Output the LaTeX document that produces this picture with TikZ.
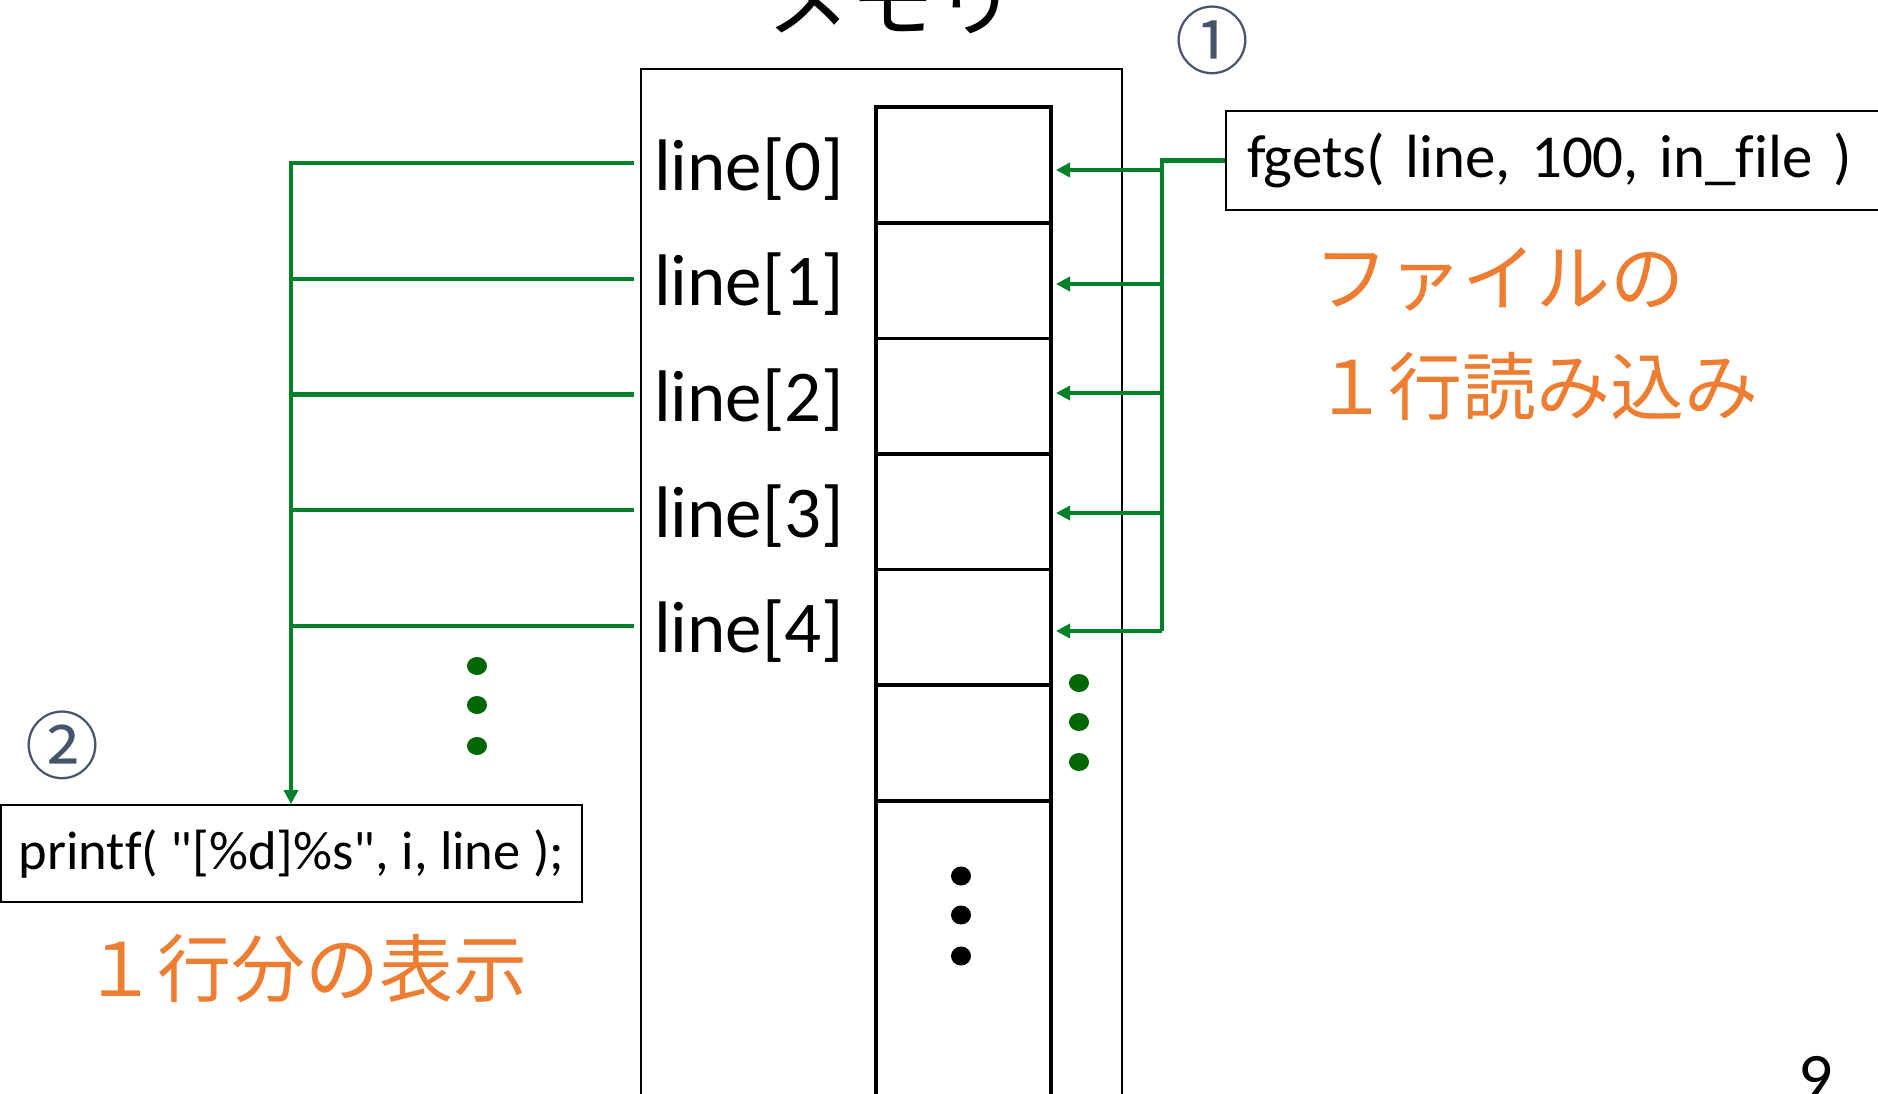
\documentclass[tikz,border=0pt]{standalone}
\usepackage{fontspec}
\setmainfont{Carlito}
\newfontfamily\codefont{Carlito}[Ligatures={TeXOff,CommonOff}]
\newfontfamily\jp{Noto Sans CJK JP}
\usetikzlibrary{arrows.meta,calc}
\definecolor{gline}{RGB}{0,128,40}
\definecolor{gdot}{RGB}{0,102,0}
\definecolor{orng}{RGB}{237,125,49}
\definecolor{circ}{RGB}{68,84,106}
\begin{document}
\begin{tikzpicture}[x=1pt,y=-1pt,
  cellbox/.style={draw=black,line width=3.6pt,minimum width=175pt,minimum height=115.6pt,inner sep=0pt,anchor=north west},
  memframe/.style={draw=black,line width=2.2pt,minimum width=481pt,minimum height=1060pt,inner sep=0pt,anchor=north west},
  codebox/.style={draw=black,line width=2pt,inner sep=0pt},
  lbl/.style={font=\fontsize{73}{80}\selectfont,inner sep=0pt,anchor=base west},
  gl/.style={draw=gline,line width=4.2pt},
  gar/.style={gl,-{Triangle[length=14pt,width=14pt]}},
  orangetxt/.style={text=orng,font=\jp\fontsize{74}{90}\selectfont,inner sep=0pt},
  circnum/.style={text=circ,font=\jp\fontsize{74}{80}\selectfont,inner sep=0pt},
  gdots/.style={fill=gdot},
  bdots/.style={fill=black}
]
\useasboundingbox (0,0) rectangle (1878,1093);
\clip (0,0) rectangle (1878,1093);

% title
\node[font=\jp\fontsize{84}{90}\selectfont,inner sep=0pt,anchor=base] (title) at (892,30) {メモリ};

% memory frame
\node[memframe] (mem) at (640,68) {};

% cells
\foreach \i in {0,...,5}{
  \node[cellbox] (c\i) at (874,{105.4+115.6*\i}) {};
}
\node[cellbox,minimum height=320pt] (c6) at (874,799) {};

% labels
\foreach \i in {0,...,4}{
  \node[lbl] (l\i) at (654,{163.2+115.6*\i+27}) {line[\i]};
}

% code boxes
\node[codebox,anchor=west,inner xsep=21pt,text width=700pt,align=left,minimum height=99pt,font=\codefont\fontsize{61}{70}\selectfont] (fgets) at (1225,160.5) {fgets( line, 100, in\_file )};
\node[codebox,minimum width=581pt,minimum height=97pt,font=\codefont\fontsize{54.5}{60}\selectfont] (printf) at (291.5,853.5) {printf( "[\%d]\%s", i, line );};

% orange captions
\node[orangetxt,anchor=base west] (cap1a) at (1314,305) {ファイルの};
\node[orangetxt,anchor=base west] (cap1b) at (1314,414) {１行読み込み};
\node[orangetxt,anchor=base] (cap2) at (305,996) {１行分の表示};

% circled numbers
\node[circnum] (n1) at (1212,40) {①};
\node[circnum] (n2) at (62,745) {②};

% left connectors (to printf)
\foreach \i in {0,...,4}{
  \coordinate (lp\i) at (634,{163.2+115.6*\i});
  \coordinate (lb\i) at (291,{163.2+115.6*\i});
}
\foreach \i in {1,...,4}{
  \draw[gl] (lp\i) -- (lb\i);
}
\draw[gar] (lp0) -- (lb0) -- (lb0 |- printf.north);

% right connectors (from fgets)
\coordinate (rb0) at (1162,170);
\coordinate (rb1) at (1162,284);
\coordinate (rb2) at (1162,393);
\coordinate (rb3) at (1162,513);
\coordinate (rb4) at (1162,631);
\foreach \i/\y in {0/170,1/284,2/393,3/513,4/631}{
  \coordinate (ra\i) at (1056,\y);
}
\draw[gl] (fgets.west) -- (fgets.west -| rb0) -- (rb4);
\foreach \i in {0,...,4}{
  \draw[gar] (rb\i) -- (ra\i);
}

% dots
\foreach \y in {666,705,746}{
  \fill[gdots] (477,\y) ellipse [x radius=10pt, y radius=9pt];
}
\foreach \y in {683,722,762}{
  \fill[gdots] (1079,\y) ellipse [x radius=10pt, y radius=9pt];
}
\foreach \y in {876,915,956}{
  \fill[bdots] (961,\y) ellipse [x radius=10pt, y radius=9.5pt];
}

% page number
\node[font=\fontsize{68}{70}\selectfont,inner sep=0pt,anchor=base] (pg) at (1816,1100) {9};
\end{tikzpicture}
\end{document}
